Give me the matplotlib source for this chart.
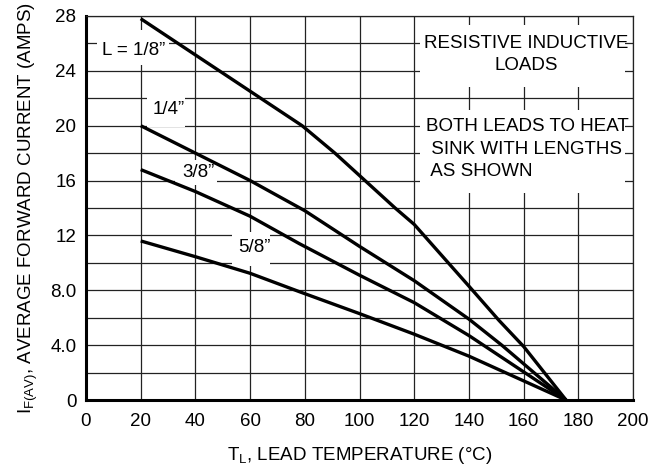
import matplotlib
matplotlib.use("Agg")
import matplotlib.pyplot as plt
from matplotlib.patches import Rectangle

plt.rcParams['font.family'] = ['Liberation Sans', 'DejaVu Sans']
plt.rcParams['mathtext.fontset'] = 'custom'
plt.rcParams['mathtext.rm'] = 'Liberation Sans'

# curves: lead temperature (C) vs. average forward current (A)
t_18 = [20, 79, 91, 102, 113, 120, 132, 140, 151, 160, 175.5]
i_18 = [27.8, 20, 18, 16, 14, 12.8, 10.1, 8.3, 5.8, 3.9, 0]
t_14 = [20, 40, 60, 80, 100, 120, 140, 152, 175.5]
i_14 = [20, 18, 16, 13.8, 11.2, 8.7, 5.9, 4.0, 0]
t_38 = [20, 40, 60, 78, 100, 120, 140, 175.5]
i_38 = [16.8, 15.2, 13.4, 11.4, 9.1, 7.1, 4.7, 0]
t_58 = [20, 40, 60, 78, 100, 120, 140, 175.5]
i_58 = [11.6, 10.45, 9.24, 7.9, 6.3, 4.8, 3.2, 0]

x_ticks = [0, 20, 40, 60, 80, 100, 120, 140, 160, 180, 200]
y_ticks = [0, 4, 8, 12, 16, 20, 24, 28]
y_labels = ['0', '4.0', '8.0', '12', '16', '20', '24', '28']
y_minor = [2, 6, 10, 14, 18, 22, 26]

fig = plt.figure(figsize=(6.5, 4.69), dpi=100)
ax = fig.add_axes([0.1323, 0.147, 0.8417, 0.819])

for t, i in [(t_18, i_18), (t_14, i_14), (t_38, i_38), (t_58, i_58)]:
    ax.plot(t, i, color='black', lw=2.4, solid_capstyle='butt', zorder=3)

ax.set_xlim(0, 200)
ax.set_ylim(0, 28)
ax.set_xticks(x_ticks)
ax.set_yticks(y_ticks)
ax.set_yticklabels(y_labels)
ax.set_yticks(y_minor, minor=True)
ax.set_axisbelow(True)
ax.grid(True, which='both', color='#222222', lw=0.9)
ax.tick_params(which='both', length=0, labelsize=13.5)
ax.tick_params(axis='x', pad=9)
ax.tick_params(axis='y', pad=7)

for side in ['left', 'bottom']:
    ax.spines[side].set_linewidth(2.2)
for side in ['top', 'right']:
    ax.spines[side].set_linewidth(0.9)
    ax.spines[side].set_color('#222222')

# white patches behind the labels (they hide the grid)
boxes = [(4, 24.4, 26.5, 2.6), (22.3, 19.9, 13.9, 2.4), (32.5, 15.7, 15.4, 1.8),
         (53.4, 9.8, 13.9, 2.45), (122.1, 22.8, 75, 4.55), (122.1, 15.1, 75, 6.05)]
for bx, by, bw, bh in boxes:
    ax.add_patch(Rectangle((bx, by), bw, bh, facecolor='white', edgecolor='none', zorder=1))

fs = 13.5
ax.text(17.5, 25.5, 'L = 1/8\u201d', ha='center', va='center', fontsize=fs, zorder=4)
ax.text(30.3, 21.2, '1/4\u201d', ha='center', va='center', fontsize=fs, zorder=4)
ax.text(41, 16.6, '3/8\u201d', ha='center', va='center', fontsize=fs, zorder=4)
ax.text(61.4, 11.1, '5/8\u201d', ha='center', va='center', fontsize=fs, zorder=4)
ax.text(161, 25.2, 'RESISTIVE INDUCTIVE\nLOADS', ha='center', va='center',
        fontsize=fs, linespacing=1.4, zorder=4)
ax.text(124.2, 18.3, 'BOTH LEADS TO HEAT\n SINK WITH LENGTHS\n AS SHOWN', ha='left',
        va='center', fontsize=fs, linespacing=1.4, zorder=4)

ax.set_xlabel('T$_{\\mathregular{L}}$, LEAD TEMPERATURE (\u00b0C)', fontsize=fs, labelpad=11)
ax.set_ylabel('I$_{\\mathregular{F(AV)}}$, AVERAGE FORWARD CURRENT (AMPS)', fontsize=fs, labelpad=7)

fig.savefig('out.png', dpi=100)
